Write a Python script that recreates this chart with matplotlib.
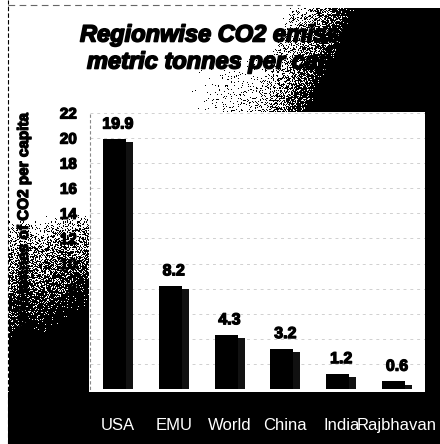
import numpy as np
import matplotlib
matplotlib.use("Agg")
import matplotlib.pyplot as plt
from matplotlib.lines import Line2D
import matplotlib.patheffects as pe

plt.rcParams['font.family'] = ['Liberation Sans', 'DejaVu Sans']

regions = ["USA", "EMU", "World", "China", "India", "Rajbhavan"]
emissions = [19.9, 8.2, 4.3, 3.2, 1.2, 0.6]
yticks = list(range(0, 23, 2))
title_lines = ["Regionwise CO2 emissions in", "metric tonnes per capita"]
ylabel = "Metric tonnes of CO2 per capita"

W, H = 440, 444
fig = plt.figure(figsize=(W / 100, H / 100), dpi=100, facecolor="white")

def fx(px):
    return px / W

def fy(py):
    return 1 - py / H

heavy = [pe.withStroke(linewidth=0.9, foreground="black")]
heavier = [pe.withStroke(linewidth=1.2, foreground="black")]

# plot area
left, right, top, bottom = 90, 425, 113, 389
ax = fig.add_axes([fx(left), fy(bottom), fx(right - left), (bottom - top) / H])
ax.set_xlim(-0.5, len(regions) - 0.5)
ax.set_ylim(0, 22)
ax.set_facecolor("white")

x = np.arange(len(regions))
vals = np.array(emissions)
front_w, side_w = 0.41, 0.125
group_w = front_w + side_w
ax.bar(x - group_w / 2 + front_w / 2, vals, width=front_w, color="black", zorder=3)
ax.bar(x + group_w / 2 - side_w / 2, vals - 0.25, width=side_w, color="#111111", zorder=3)

for xi, v in zip(x, vals):
    ax.annotate(f"{v}", (xi, v), xytext=(0, 11), textcoords="offset points",
                ha="center", va="center", fontsize=11.5, fontweight="bold", color="black",
                path_effects=heavy)

ax.set_yticks(yticks)
ax.set_yticklabels([str(t) for t in yticks], fontsize=11, fontweight="bold")
for lbl in ax.get_yticklabels():
    lbl.set_path_effects(heavy)
ax.tick_params(axis="y", length=0, pad=9.5)
ax.set_xticks([])
ax.yaxis.grid(True, color="#d0d0d0", linestyle=(0, (3, 4)), linewidth=0.7, zorder=0)
for s in ["top", "right", "bottom"]:
    ax.spines[s].set_visible(False)
ax.spines["left"].set_color("#888888")
ax.spines["left"].set_linestyle((0, (2, 3)))
ax.spines["left"].set_linewidth(0.8)

# title and axis label
fig.text(fx(80), fy(35), title_lines[0], fontsize=17, fontweight="bold", fontstyle="italic",
         ha="left", va="center", path_effects=heavier)
fig.text(fx(87), fy(62), title_lines[1], fontsize=17, fontweight="bold", fontstyle="italic",
         ha="left", va="center", path_effects=heavier)
fig.text(fx(24), fy(228), ylabel, rotation=90, fontsize=11, fontweight="bold",
         ha="center", va="center", path_effects=heavy)

# frame lines
fig.add_artist(Line2D([fx(8), fx(8)], [0, 1], color="black", lw=0.8, linestyle=(0, (4, 2))))
fig.add_artist(Line2D([fx(8), fx(300)], [fy(5), fy(5)], color="#666666", lw=0.8,
                      linestyle=(0, (6, 4))))

# dark scanned shading (top right, right edge, bottom band, left margin)
yy, xx = np.mgrid[0:H, 0:W].astype(float)
p = np.zeros((H, W))
c = 322 - 0.45 * (yy - 9)
tr = np.clip((xx - c) / 70 + 0.5, 0, 1)
haze = 0.12 * np.clip((xx - 190) / 60, 0, 1) * np.clip((yy - 55) / 30, 0, 1)
mask_tr = (yy >= 9) & (yy < top)
p = np.where(mask_tr, np.maximum(tr, haze), p)
p = np.where((xx >= right) & (yy >= 9), 1.0, p)
p = np.where((yy >= 392) & (xx >= 8), 1.0, p)
lm = (xx >= 9) & (xx < left - 1) & (yy >= 200) & (yy < 392)
lp = np.clip((yy - 220) / 120, 0, 1) ** 0.6 + 0.2 * np.clip((xx - 40) / 50, 0, 1) * (yy > 215)
p = np.where(lm, np.clip(lp, 0, 1), p)
rng = np.random.default_rng(11)
u = rng.random((H, W))
black = u < p
rgba = np.zeros((H, W, 4))
rgba[..., 3] = black.astype(float)
ov = fig.add_axes([0, 0, 1, 1], zorder=10)
ov.imshow(rgba, extent=[0, W, H, 0], interpolation="nearest", aspect="auto")
ov.set_xlim(0, W)
ov.set_ylim(H, 0)
ov.axis("off")

# category names sit on the dark bottom band, above the shading
lab_ax = fig.add_axes([fx(left), fy(bottom), fx(right - left), (bottom - top) / H], zorder=11)
lab_ax.set_xlim(ax.get_xlim())
lab_ax.set_ylim(ax.get_ylim())
lab_ax.patch.set_alpha(0)
lab_ax.set_yticks([])
lab_ax.set_xticks(x)
lab_ax.set_xticklabels(regions, fontsize=12, color="white")
lab_ax.tick_params(axis="x", length=0, pad=21)
for s in lab_ax.spines.values():
    s.set_visible(False)

fig.savefig("out.png", dpi=100, facecolor="white")
